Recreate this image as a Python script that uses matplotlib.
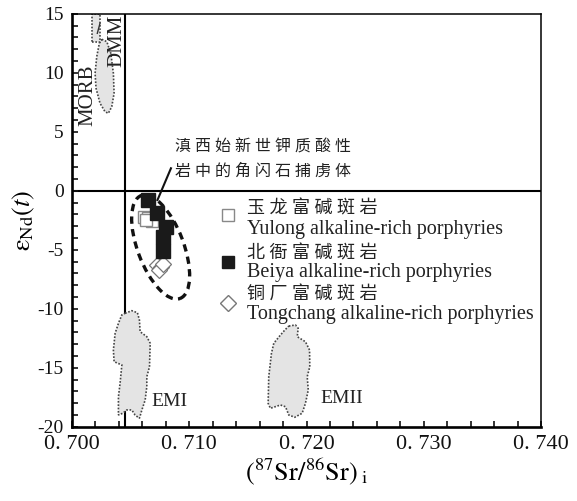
import matplotlib
matplotlib.use("Agg")
import matplotlib.pyplot as plt
from matplotlib.patches import Polygon, Ellipse, Rectangle
from matplotlib.transforms import ScaledTranslation
from matplotlib.ticker import MultipleLocator, FixedLocator

plt.rcParams['font.family'] = ['Liberation Serif', 'Noto Sans CJK SC']
plt.rcParams['mathtext.fontset'] = 'stix'

# --- dados das amostras ---
yulong_sr = [0.7061, 0.7065, 0.7068, 0.7063]
yulong_nd = [-2.2, -2.35, -2.6, -2.5]

beiya_sr = [0.70652, 0.70729, 0.70803, 0.70780, 0.70772]
beiya_nd = [-0.79, -1.86, -3.10, -3.95, -5.08]

tongchang_sr = [0.70729, 0.70761, 0.70746, 0.70775]
tongchang_nd = [-6.30, -6.49, -6.72, -6.21]

# --- campos de referencia (contornos) ---
morb_sr = [0.70254, 0.70297, 0.70331, 0.70353, 0.70359, 0.70339, 0.70310,
           0.70282, 0.70239, 0.70205, 0.70197, 0.70211, 0.70233]
morb_nd = [12.83, 12.63, 11.64, 9.95, 8.25, 7.12, 6.56, 6.69, 7.41, 8.68,
           9.95, 11.36, 12.49]
dmm_box = (0.70168, 0.70239, 12.6, 15.0)

emi_sr = [0.70453, 0.70510, 0.70558, 0.70575, 0.70581, 0.70638, 0.70667,
          0.70661, 0.70638, 0.70638, 0.70624, 0.70596, 0.70575, 0.70538,
          0.70510, 0.70468, 0.70433, 0.70396, 0.70396, 0.70410, 0.70425,
          0.70359, 0.70353, 0.70368, 0.70396, 0.70425]
emi_nd = [-10.39, -10.17, -10.34, -10.96, -11.95, -12.37, -12.93, -14.92,
          -15.76, -16.61, -17.74, -18.58, -19.29, -19.01, -18.58, -18.58,
          -18.86, -19.01, -17.46, -16.32, -14.77, -14.49, -13.50, -12.08,
          -11.24, -10.53]

emii_sr = [0.71849, 0.71906, 0.71929, 0.71921, 0.71991, 0.72026, 0.72028,
           0.72006, 0.72015, 0.71991, 0.71963, 0.71900, 0.71849, 0.71821,
           0.71778, 0.71692, 0.71673, 0.71678, 0.71701, 0.71721, 0.71778,
           0.71815]
emii_nd = [-11.47, -11.38, -11.66, -12.37, -12.80, -13.50, -14.92, -15.76,
           -16.89, -18.02, -18.86, -19.20, -19.01, -18.31, -18.16, -18.44,
           -18.02, -15.76, -13.78, -12.93, -12.23, -11.81]

bulk_earth_sr = 0.7045
chur_nd = 0.0

x_ticks = [0.700, 0.710, 0.720, 0.730, 0.740]
x_labels = ['0. 700', '0. 710', '0. 720', '0. 730', '0. 740']
y_ticks = [-20, -15, -10, -5, 0, 5, 10, 15]
y_labels = ['-20', '-15', '-10', '-5', '0', '5', '10', '15']


def espacado(s):
    return ' '.join(s)


fig = plt.figure(figsize=(5.77, 5.01), dpi=100)
ax = fig.add_axes([72 / 577, (501 - 426.7) / 501, 469 / 577, 413 / 501])
ax.set_xlim(0.700, 0.740)
ax.set_ylim(-20, 15)

fill = '#e4e4e4'
edge = '#444444'
for xs, ys in [(morb_sr, morb_nd), (emi_sr, emi_nd), (emii_sr, emii_nd)]:
    ax.add_patch(Polygon(list(zip(xs, ys)), closed=True, facecolor=fill,
                         edgecolor=edge, linestyle=(0, (1, 1)), lw=1.2, zorder=2))
x0, x1, y0, y1 = dmm_box
ax.add_patch(Rectangle((x0, y0), x1 - x0, y1 - y0, facecolor=fill,
                       edgecolor=edge, linestyle=(0, (1, 1)), lw=1.2, zorder=2))
ax.plot([0.70216, 0.70239], [13.34, 14.19], color='#333333', lw=1.0, zorder=3)

ax.axvline(bulk_earth_sr, color='black', lw=1.5, zorder=1)
ax.axhline(chur_nd, color='black', lw=1.5, zorder=1)

# elipse tracejada (tamanho em polegadas, centro em dados)
trans = fig.dpi_scale_trans + ScaledTranslation(0.70756, -4.77, ax.transData)
ax.add_patch(Ellipse((0, 0), width=0.46, height=1.10, angle=20.7,
                     transform=trans, fill=False, edgecolor='#111111',
                     lw=2.4, linestyle=(0, (2.2, 1.6)), zorder=4))

ax.plot(yulong_sr, yulong_nd, 's', ms=9, mfc='white', mec='#888888', mew=1.0,
        ls='none', zorder=5)
ax.plot(tongchang_sr, tongchang_nd, 'D', ms=8, mfc='white', mec='#777777',
        mew=0.9, ls='none', zorder=5)
ax.plot(beiya_sr, beiya_nd, 's', ms=9.5, color='#1a1a1a', ls='none', zorder=6)

# anotacao
ax.plot([0.70729, 0.70844], [-0.79, 1.90], color='#111111', lw=1.5, zorder=6)
ax.text(0.70880, 3.62, espacado('滇西始新世钾质酸性'), fontsize=11.5,
        va='center', ha='left', color='#222222')
ax.text(0.70880, 1.58, espacado('岩中的角闪石捕虏体'), fontsize=11.5,
        va='center', ha='left', color='#222222')

# legenda manual
leg = [('s', 'white', '#888888', -2.05, -1.5, -3.25,
        '玉龙富碱斑岩', 'Yulong alkaline-rich porphyries'),
       ('s', '#1a1a1a', '#1a1a1a', -6.0, -5.35, -6.95,
        '北衙富碱斑岩', 'Beiya alkaline-rich porphyries'),
       ('D', 'white', '#777777', -9.5, -8.85, -10.45,
        '铜厂富碱斑岩', 'Tongchang alkaline-rich porphyries')]
for mk, fc, ec, ym, yc, ye, cn, en in leg:
    ax.plot([0.7133], [ym], mk, ms=9 if mk == 's' else 8, mfc=fc, mec=ec,
            mew=1.0, ls='none', clip_on=False)
    ax.text(0.71495, yc, espacado(cn), fontsize=13, va='center', ha='left',
            color='#222222')
    ax.text(0.71490, ye, en, fontsize=14.5, va='center', ha='left',
            color='#222222')

ax.text(0.70139, 8.11, 'MORB', rotation=90, fontsize=15, va='center',
        ha='center', color='#222222')
ax.text(0.70385, 12.69, 'DMM', rotation=90, fontsize=15, va='center',
        ha='center', color='#222222')
ax.text(0.70681, -17.88, 'EMI', fontsize=14, va='center', ha='left',
        color='#222222')
ax.text(0.72120, -17.59, 'EMII', fontsize=14, va='center', ha='left',
        color='#222222')

# eixos
ax.xaxis.set_major_locator(FixedLocator(x_ticks))
ax.set_xticklabels(x_labels)
ax.xaxis.set_minor_locator(MultipleLocator(0.002))
ax.yaxis.set_major_locator(FixedLocator(y_ticks))
ax.set_yticklabels(y_labels)
ax.yaxis.set_minor_locator(MultipleLocator(1))
ax.tick_params(which='both', direction='in', top=False, right=False,
               length=4, width=1.2, colors='#111111')
ax.tick_params(axis='x', labelsize=16, pad=6)
ax.tick_params(axis='y', labelsize=14, pad=6)
for s in ['left', 'bottom']:
    ax.spines[s].set_linewidth(1.9)
for s in ['top', 'right']:
    ax.spines[s].set_linewidth(1.1)

ax.set_xlabel(r'$(^{87}\mathrm{Sr}/^{86}\mathrm{Sr})_{\ \mathrm{i}}$',
              fontsize=19, labelpad=2)
ax.set_ylabel(r'$\mathrm{\varepsilon}_{\mathrm{Nd}}(t)$', fontsize=19)
ax.yaxis.set_label_coords(-0.075, 0.5)

fig.savefig('out.png', dpi=100)
